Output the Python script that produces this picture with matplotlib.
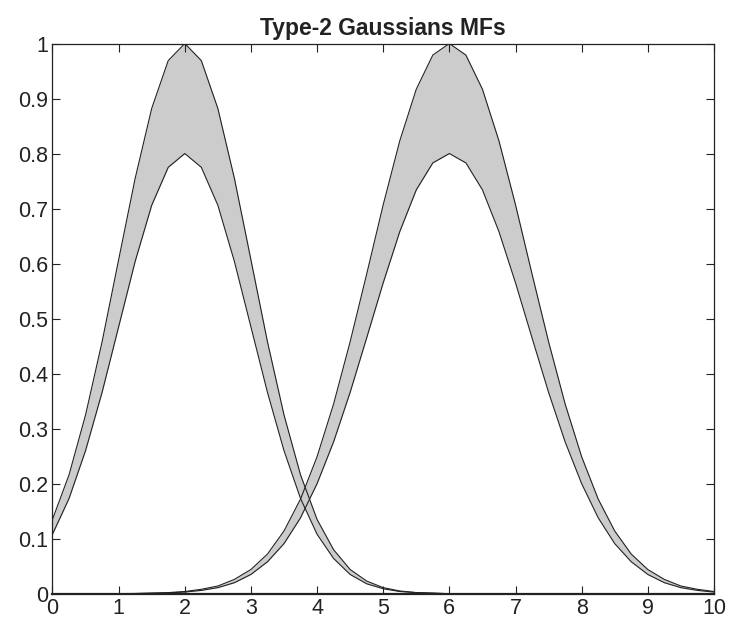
import matplotlib.pyplot as plt
import numpy as np

plt.rcParams['font.family'] = ['Liberation Sans', 'DejaVu Sans']

# x grid read at 0.25 steps
x = np.arange(41) * 0.25

# first MF (centre 2)
upper1 = [0.135, 0.216, 0.325, 0.458, 0.607, 0.755, 0.882, 0.969, 1.0,
          0.969, 0.882, 0.755, 0.607, 0.458, 0.325, 0.216, 0.135,
          0.080, 0.044, 0.023, 0.011, 0.005, 0.002, 0.001] + [0.0] * 17
lower1 = [0.108, 0.173, 0.260, 0.366, 0.485, 0.604, 0.706, 0.775, 0.8,
          0.775, 0.706, 0.604, 0.485, 0.366, 0.260, 0.173, 0.108,
          0.064, 0.035, 0.018, 0.009, 0.004, 0.002, 0.001] + [0.0] * 17

# second MF (centre 6)
upper2 = [0.0] * 4 + [0.0002, 0.0004, 0.001, 0.002, 0.004, 0.008, 0.014,
          0.026, 0.044, 0.072, 0.114, 0.172, 0.249, 0.345, 0.458, 0.581,
          0.707, 0.823, 0.917, 0.979, 1.0, 0.979, 0.917, 0.823, 0.707,
          0.581, 0.458, 0.345, 0.249, 0.172, 0.114, 0.072, 0.044, 0.026,
          0.014, 0.008, 0.004]
lower2 = [0.0] * 4 + [0.0002, 0.0003, 0.001, 0.0015, 0.003, 0.006, 0.011,
          0.020, 0.035, 0.058, 0.091, 0.138, 0.200, 0.276, 0.366, 0.465,
          0.565, 0.658, 0.734, 0.783, 0.8, 0.783, 0.734, 0.658, 0.565,
          0.465, 0.366, 0.276, 0.200, 0.138, 0.091, 0.058, 0.035, 0.020,
          0.011, 0.006, 0.003]

fig = plt.figure(figsize=(7.3, 6.27), dpi=100)
ax = fig.add_axes([0.0719, 0.0531, 0.9061, 0.8775])

for up, lo in [(upper1, lower1), (upper2, lower2)]:
    ax.fill_between(x, lo, up, color='#cccccc', lw=0)
    ax.plot(x, up, color='#222222', lw=0.8)
    ax.plot(x, lo, color='#222222', lw=0.8)

ax.set_xlim(0, 10)
ax.set_ylim(0, 1)
ax.set_xticks(range(11))
ax.set_yticks(np.arange(0, 1.01, 0.1))
ax.set_yticklabels(['0', '0.1', '0.2', '0.3', '0.4', '0.5', '0.6', '0.7', '0.8', '0.9', '1'])
ax.tick_params(direction='in', top=True, right=True, length=6, width=0.8,
               labelsize=15.5, color='#222222', labelcolor='#222222', pad=3)
for s in ax.spines.values():
    s.set_linewidth(0.9)
    s.set_color('#222222')
ax.spines['bottom'].set_linewidth(1.6)

ax.set_title('Type-2 Gaussians MFs', fontsize=16.5, fontweight='bold', color='#222222', pad=6)

fig.savefig('out.png', dpi=100)
